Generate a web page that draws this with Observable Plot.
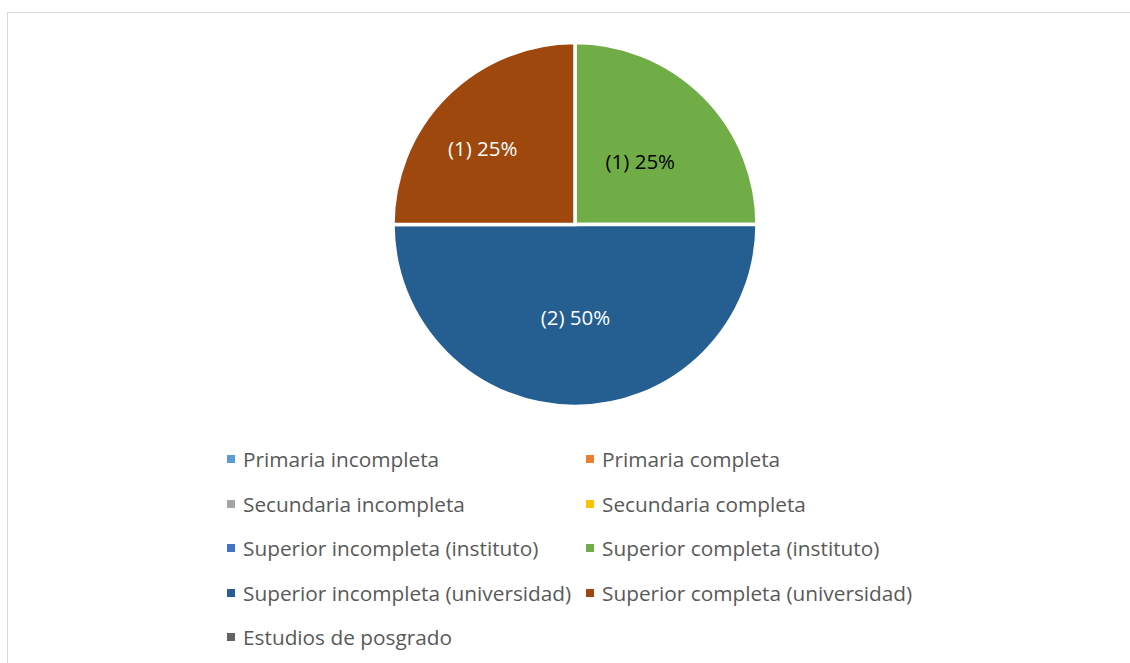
<!DOCTYPE html>
<html>
<head>
<meta charset="utf-8">
<script src="https://cdn.jsdelivr.net/npm/d3@7"></script>
<script src="https://cdn.jsdelivr.net/npm/@observablehq/plot@0.6"></script>
<style>
  html, body { margin: 0; padding: 0; background: #fff; }
  body { width: 1130px; height: 663px; position: relative; overflow: hidden; font-family: "Open Sans", Lato, sans-serif; }
  #frame { position: absolute; left: 7px; top: 12px; width: 1130px; height: 700px; border-left: 1px solid #d9d9d9; border-top: 1px solid #d9d9d9; }
  #chart { position: absolute; left: 0; top: 0; }
  #legend { position: absolute; left: 227px; top: 445px; display: grid; grid-template-columns: 359px auto; grid-auto-rows: 44.5px; }
  .item { display: flex; align-items: center; height: 28px; color: #595959; font-size: 20.8px; white-space: nowrap; }
  .sw { width: 8px; height: 8px; margin-right: 8px; flex: none; }
</style>
</head>
<body>
<div id="frame"></div>
<div id="chart"></div>
<div id="legend"></div>
<script>
// ---- data ----
const categories = [
  "Primaria incompleta",
  "Primaria completa",
  "Secundaria incompleta",
  "Secundaria completa",
  "Superior incompleta (instituto)",
  "Superior completa (instituto)",
  "Superior incompleta (universidad)",
  "Superior completa (universidad)",
  "Estudios de posgrado"
];
const counts = [0, 0, 0, 0, 0, 1, 2, 1, 0];
const colors = ["#5B9BD5", "#ED7D31", "#A5A5A5", "#FFC000", "#4472C4", "#70AD47", "#255E91", "#9E480E", "#636363"];
const labelColors = ["#ffffff", "#ffffff", "#ffffff", "#000000", "#ffffff", "#000000", "#ffffff", "#ffffff", "#ffffff"];

// ---- build table ----
const total = d3.sum(counts);
const table = categories.map((c, i) => ({category: c, count: counts[i], color: colors[i], labelColor: labelColors[i]}));
const pie = d3.pie().sort(null).value(d => d.count)(table);
const slices = pie.filter(p => p.data.count > 0).map(p => {
  const mid = (p.startAngle + p.endAngle) / 2;
  return {
    ...p.data,
    startAngle: p.startAngle,
    endAngle: p.endAngle,
    mid,
    label: `(${p.data.count}) ${Math.round(p.data.count / total * 100)}%`
  };
});

// label nudges (Excel best-fit placement), in pixels
const nudge = {
  "Superior completa (instituto)": [-6, 8],
  "Superior incompleta (universidad)": [0, -6],
  "Superior completa (universidad)": [-22, -5]
};

const labelR = 0.55;

const pieMark = (index, scales, values, dimensions) => {
  const cx = scales.x(0), cy = scales.y(0);
  const r = Math.abs(scales.x(1) - scales.x(0));
  const g = d3.create("svg:g");
  const arc = d3.arc().innerRadius(0).outerRadius(r);
  g.selectAll("path").data(slices).join("path")
    .attr("transform", `translate(${cx},${cy})`)
    .attr("d", d => arc(d))
    .attr("fill", d => d.color)
    .attr("stroke", "#fff")
    .attr("stroke-width", 3.5)
    .attr("stroke-linejoin", "miter");
  return g.node();
};

const chart = Plot.plot({
  width: 1130,
  height: 430,
  marginLeft: 393,
  marginRight: 373,
  marginTop: 43,
  marginBottom: 24,
  x: {domain: [-1, 1], axis: null},
  y: {domain: [-1, 1], axis: null},
  style: {background: "transparent", overflow: "visible"},
  marks: [
    pieMark,
    ...slices.map(s => Plot.text([s], {
      x: d => Math.sin(d.mid) * labelR,
      y: d => Math.cos(d.mid) * labelR,
      text: d => d.label,
      fill: d => d.labelColor,
      dx: (nudge[s.category] || [0, 0])[0],
      dy: (nudge[s.category] || [0, 0])[1],
      fontSize: 20.5,
      fontFamily: "'Open Sans', Lato, sans-serif",
      textAnchor: "middle"
    }))
  ]
});
document.getElementById("chart").appendChild(chart);

// legend
const legend = d3.select("#legend");
table.forEach(d => {
  const it = legend.append("div").attr("class", "item");
  it.append("span").attr("class", "sw").style("background", d.color);
  it.append("span").text(d.category);
});
</script>
</body>
</html>
